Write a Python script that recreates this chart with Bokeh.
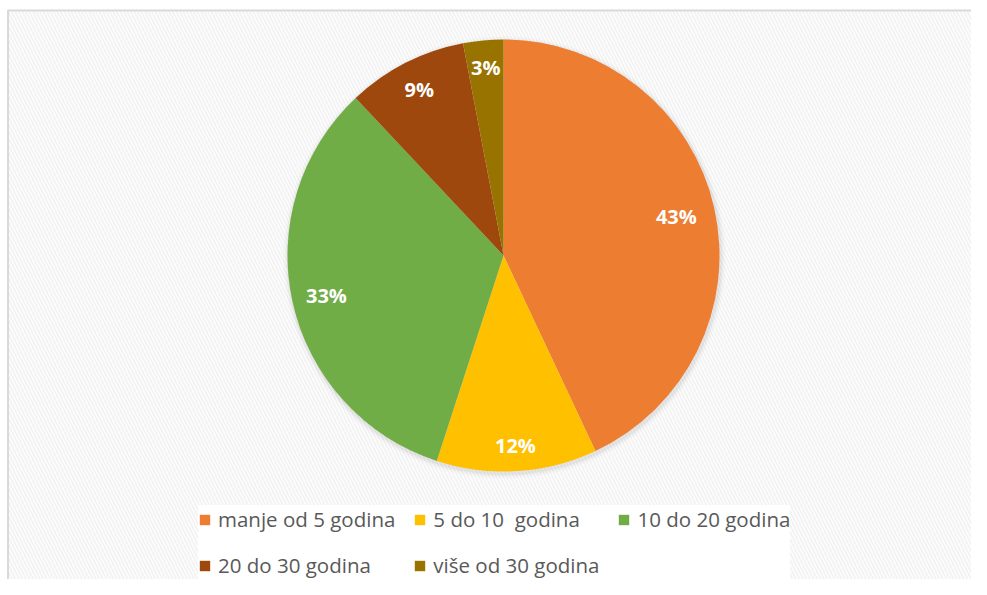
import math
from bokeh.plotting import figure
from bokeh.models import ColumnDataSource, Legend, LegendItem, Range1d
from bokeh.core.properties import value
from bokeh.embed import file_html
from bokeh.resources import INLINE

# ---- data ----
categories = ["manje od 5 godina", "5 do 10  godina", "10 do 20 godina", "20 do 30 godina", "više od 30 godina"]
shares = [43, 12, 33, 9, 3]
labels = ["43%", "12%", "33%", "9%", "3%"]
colors = ["#ED7D31", "#FFC000", "#70AD47", "#9E480E", "#997300"]
label_radius = [0.82, 0.88, 0.84, 0.86, 0.875]   # label placement (fraction of radius)

W, H = 971, 579
CX, CY, R = 503, 324, 216

total = sum(shares)
starts, ends, lx, ly = [], [], [], []
cum = 0.0
for s, f in zip(shares, label_radius):
    a0 = math.pi / 2 - 2 * math.pi * cum / total
    cum += s
    a1 = math.pi / 2 - 2 * math.pi * cum / total
    starts.append(a0)
    ends.append(a1)
    mid = (a0 + a1) / 2
    lx.append(CX + f * R * math.cos(mid))
    ly.append(CY + f * R * math.sin(mid))

src = ColumnDataSource(dict(cat=categories, start=starts, end=ends, color=colors,
                            lab=labels, lx=lx, ly=ly))

p = figure(width=W, height=H, output_backend="svg", toolbar_location=None,
           x_range=Range1d(0, W), y_range=Range1d(0, H), min_border=0,
           x_axis_location=None, y_axis_location=None)
p.grid.visible = False
p.outline_line_color = None
p.background_fill_color = "white"
p.border_fill_color = "white"

# patterned chart area
p.quad(left=8, right=W, bottom=0, top=568, fill_color="white", line_color=None,
       hatch_pattern="left_diagonal_line", hatch_color="#f3f3f3", hatch_weight=2, hatch_scale=7)
# chart border (left & top)
p.line(x=[7.5, 7.5, W], y=[0, 569, 569], line_color="#d9d9d9", line_width=2)

# soft shadow
for k, a in [(5, 0.04), (3, 0.06), (1.5, 0.08)]:
    p.circle(x=CX + 1, y=CY - 2, radius=R + k, fill_color="#7f7f7f", fill_alpha=a, line_color=None)

r = p.wedge(x=CX, y=CY, radius=R, start_angle="start", end_angle="end", direction="clock",
            fill_color="color", line_color=None, source=src)

p.text(x="lx", y="ly", text="lab", source=src, text_color="white",
       text_font=value("Open Sans"), text_font_style="bold", text_font_size="20px",
       text_align="center", text_baseline="middle")

items = [LegendItem(label=c, renderers=[r], index=i) for i, c in enumerate(categories)]
legend = Legend(items=items, ncols=3, orientation="horizontal", location=(198, 0),
                label_text_font="Open Sans", label_text_font_size="20.5px", label_text_color="#595959",
                glyph_width=13, glyph_height=13, label_standoff=7, spacing=18,
                padding=10, margin=0, background_fill_color="white", background_fill_alpha=1,
                border_line_color=None)
p.add_layout(legend, "center")

open("out.html", "w").write(file_html(p, INLINE))
